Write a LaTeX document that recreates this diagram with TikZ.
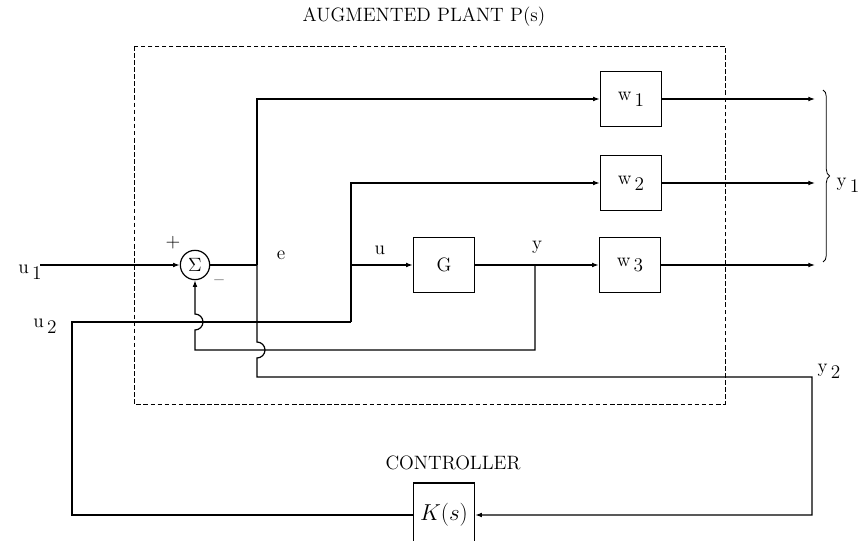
\documentclass[tikz,border=0pt]{standalone}
\usepackage{amsmath,amssymb}
\usepackage{tikz}
\usetikzlibrary{
	positioning,
	calc,
	arrows.meta,
	decorations.pathreplacing
}
\newcommand{\lowsub}[1]{\raisebox{-0.7ex}{\,#1}}

\begin{document}
\begin{tikzpicture}[
	x=0.75pt,
	y=-0.75pt,
	line width=0.9pt,
	font=\fontsize{14.5}{16}\selectfont,
	sig/.style={-{Latex[length=5pt,width=3.6pt]}},
	blockbox/.style={draw, minimum width=46pt, minimum height=41pt, inner sep=0pt},
	sumnode/.style={draw, circle, minimum size=22pt, inner sep=0pt}
	]
				
				\useasboundingbox (0,0) rectangle (865,541);
				
				% plant boundary
				\draw[dashed, dash pattern=on 3.5pt off 1.8pt, line width=0.7pt]
				(134,46) rectangle (725,404);
				\node (PLANT) at (424,17) {AUGMENTED PLANT P(s)};
				\node (CTRL) at (453,463) {CONTROLLER};
				
				% blocks
				\node[sumnode] (SUM) at (195,265) {$\Sigma$};
				\node[blockbox] (G) at (444,265) {G};
				\node[blockbox] (W1) at (631,99) {w\lowsub{1}};
				\node[blockbox] (W2) at (631,183) {w\lowsub{2}};
				\node[blockbox] (W3) at (630,265) {w\lowsub{3}};
				\node[
				draw,
				minimum width=46pt,
				minimum height=48pt,
				inner sep=0pt
				]
				(K) at (444,515) {\fontsize{18}{20}\selectfont$K(s)$};
				
				% branch points and corners
				\coordinate (U1IN) at (40,265);
				\coordinate (EJ) at (257,265);
				\coordinate (ETOP) at (257,99);
				\coordinate (EBOT) at (257,377);
				\coordinate (Y2C) at (812,377);
				\coordinate (UJ) at (351,265);
				\coordinate (UTOP) at (351,183);
				\coordinate (UBOT) at (351,322);
				\coordinate (U2C) at (72,322);
				\coordinate (YJ) at (535,265);
				\coordinate (YBOT) at (535,350);
				\coordinate (FBC) at (195,350);
				\coordinate (OUT1) at (815,99);
				\coordinate (OUT2) at (815,183);
				\coordinate (OUT3) at (815,265);
				
				% signal lines
				\draw[sig] (U1IN) -- (SUM.west);
				\draw (SUM.east) -- (EJ);
				\draw[sig] (EJ) -- (ETOP) -- (W1.west);
				\draw[sig] (EJ) -- ($(EJ|-FBC)+(0,-8)$)
				arc[start angle=-90, end angle=90, radius=8]
				-- (EBOT) -| (Y2C |- K) -- (K.east);
				\draw (K.west) -| (U2C) -- (UBOT);
				\draw[sig] (UBOT) -- (UTOP) -- (W2.west);
				\draw[sig] (UJ) -- (G.west);
				\draw[sig] (G.east) -- (W3.west);
				\draw[sig] (YJ) -- (YBOT) -- (FBC) -- ($(FBC|-U2C)+(0,8)$)
				arc[start angle=90, end angle=-90, radius=8]
				-- (SUM.south);
				\draw[sig] (W1.east) -- (OUT1);
				\draw[sig] (W2.east) -- (OUT2);
				\draw[sig] (W3.east) -- (OUT3);
				
				% outputs brace
				\draw[line width=0.6pt, decorate, decoration={brace, amplitude=5pt}]
				(823,90) -- (823,262);
				
				% labels
				\node (LU1) at (30,272) {u\lowsub{1}};
				\node (LU2) at (45,326) {u\lowsub{2}};
				\node (LE) at (281,255) {e};
				\node (LU) at (380,250) {u};
				\node (LY) at (537,247) {y};
				\node (LY1) at (848,185) {y\lowsub{1}};
				\node (LY2) at (829,371) {y\lowsub{2}};
				\node (PLUS) at (173,243) {+};
				\node (MINUS) at (219,283) {--};
				
			\end{tikzpicture}
\end{document}
